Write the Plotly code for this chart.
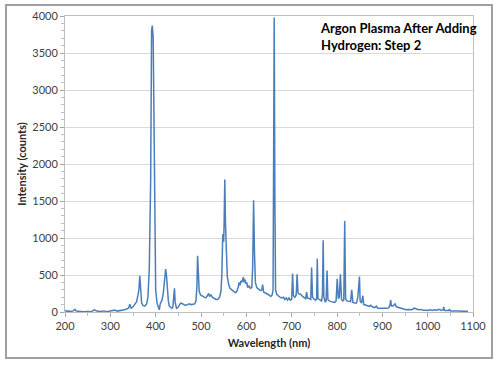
import plotly.graph_objects as go

wavelength = [200, 203, 208, 213, 218, 222, 225, 232, 240, 250, 258, 265, 270, 278, 285, 292, 300, 305, 310, 315,
              320, 326, 331, 336, 340, 343, 346, 350, 355, 358, 361, 363, 365, 367, 369, 372, 376, 380, 383, 386,
              389, 391, 392.5, 394.5, 396.5, 398, 400, 403, 406, 408, 410, 412, 414, 417, 420, 422, 424, 426, 428, 430,
              433, 436, 438, 440, 441.5, 443, 446, 449, 452, 455, 458, 462, 466, 470, 474, 478, 482, 486, 489, 491,
              492.5, 494, 496, 499, 503, 507, 511, 515, 517, 519, 522, 525, 529, 533, 537, 541, 544, 546, 548, 550,
              551, 552.5, 554, 556, 558, 561, 564, 568, 572, 576, 579, 582, 584, 586, 588, 590, 592, 593.5, 595, 597,
              599, 601, 603, 606, 609, 612, 614, 616, 618, 620, 623, 627, 631, 634, 636, 638, 642, 646, 650, 654,
              657, 659, 660.5, 661.5, 663, 664.5, 667, 670, 674, 678, 682, 685, 688, 691, 694, 697, 700, 702, 704, 707,
              710, 712, 714, 717, 720, 724, 728, 731, 733, 735, 739, 742, 744, 746, 750, 753, 755, 756.5, 758, 762,
              766, 768, 769.5, 771, 774, 776, 778, 780, 783, 787, 791, 795, 798, 800.5, 803, 805, 807.5, 810, 813, 815,
              817, 819, 822, 826, 830, 832.5, 835, 839, 843, 846, 848, 849.5, 851, 854, 857, 859, 863, 867, 871, 874,
              878, 883, 887, 890, 895, 900, 905, 910, 914, 917, 918.5, 920, 924, 928, 931, 936, 941, 946, 952, 958,
              964, 968, 971, 975, 980, 985, 990, 996, 1000, 1005, 1010, 1015, 1020, 1025, 1030, 1034, 1035.5, 1037, 1042, 1046,
              1048, 1050, 1056, 1062, 1070, 1078, 1085, 1089]
intensity = [25, 10, 12, 8, 15, 35, 12, 8, 5, 8, 5, 30, 12, 8, 15, 5, 10, 20, 25, 12,
             15, 20, 30, 40, 50, 105, 50, 70, 110, 140, 230, 300, 490, 250, 120, 90, 80, 110, 200, 600,
             1800, 3800, 3870, 3720, 2200, 800, 300, 120, 60, 30, 110, 140, 160, 260, 450, 580, 480, 280, 150, 80,
             60, 50, 70, 200, 320, 130, 50, 60, 100, 120, 115, 105, 90, 100, 110, 100, 100, 110, 150, 350,
             760, 450, 280, 230, 210, 200, 190, 230, 250, 210, 230, 200, 180, 170, 170, 200, 280, 500, 1050, 950,
             1200, 1790, 1200, 700, 480, 370, 320, 300, 280, 260, 280, 330, 400, 360, 420, 400, 440, 470, 400, 440,
             380, 400, 330, 350, 320, 330, 600, 1510, 800, 400, 330, 310, 290, 300, 370, 270, 260, 240, 230, 210,
             230, 300, 2500, 3980, 1500, 300, 240, 220, 200, 190, 200, 170, 190, 160, 190, 160, 170, 520, 220, 200,
             230, 510, 260, 240, 240, 210, 190, 180, 270, 190, 180, 170, 600, 200, 170, 160, 180, 720, 180, 160,
             150, 250, 970, 200, 140, 150, 560, 170, 150, 140, 140, 130, 150, 450, 180, 200, 510, 170, 150, 160,
             1230, 180, 150, 140, 140, 300, 130, 120, 120, 200, 420, 480, 150, 120, 220, 100, 95, 80, 75, 90,
             70, 60, 80, 50, 50, 40, 45, 50, 55, 100, 160, 80, 80, 110, 70, 60, 45, 40, 30, 35,
             30, 40, 55, 40, 30, 35, 25, 25, 20, 30, 20, 30, 25, 35, 20, 30, 70, 20, 25, 20,
             40, 15, 15, 10, 12, 10, 12, 10]

x_ticks = [200, 300, 400, 500, 600, 700, 800, 900, 1000, 1100]
y_ticks = [0, 500, 1000, 1500, 2000, 2500, 3000, 3500, 4000]
title_lines = ["Argon Plasma After Adding", "Hydrogen: Step 2"]
x_title = "Wavelength (nm)"
y_title = "Intensity (counts)"

FONT = "Lato, 'Open Sans', sans-serif"

fig = go.Figure()
fig.add_trace(go.Scatter(x=wavelength, y=intensity, mode="lines",
                         line=dict(color="#4a7ebb", width=1.5), showlegend=False))

fig.update_layout(
    width=499, height=365,
    margin=dict(l=65, r=26, t=16, b=53),
    paper_bgcolor="white", plot_bgcolor="white",
    font=dict(family=FONT, size=11, color="#262626"),
    xaxis=dict(range=[200, 1100], tickvals=x_ticks, ticks="outside", ticklen=4,
               tickcolor="#a6a6a6", showline=True, linecolor="#bfbfbf", mirror=True,
               showgrid=False, zeroline=False, automargin=False,
               minor=dict(dtick=50, ticks="outside", ticklen=3, tickcolor="#bfbfbf", showgrid=False),
               title=dict(text="<b>" + x_title + "</b>", font=dict(size=11, color="#262626"), standoff=8),
               tickfont=dict(size=11, color="#404040")),
    yaxis=dict(range=[0, 4000], tickvals=y_ticks, ticks="outside", ticklen=4,
               tickcolor="#a6a6a6", showline=True, linecolor="#bfbfbf", mirror=True,
               showgrid=True, gridcolor="#d9d9d9", gridwidth=1, zeroline=False, automargin=False,
               minor=dict(dtick=100, ticks="outside", ticklen=3, tickcolor="#bfbfbf", showgrid=False),
               title=dict(text="<b>" + y_title + "</b>", font=dict(size=11, color="#262626"), standoff=3),
               tickfont=dict(size=11, color="#404040")),
)

fig.add_annotation(xref="paper", yref="paper", x=(318 - 65) / 408, y=(312 - 18) / 296,
                   xanchor="left", yanchor="top", align="left", showarrow=False,
                   text="<b>" + title_lines[0] + "<br>" + title_lines[1] + "</b>",
                   font=dict(family=FONT, size=13, color="#000000"))

fig.add_shape(type="rect", xref="paper", yref="paper",
              x0=(6 - 65) / 408, x1=(492 - 65) / 408, y0=(312 - 358) / 296, y1=(312 - 5) / 296,
              line=dict(color="#a0a0a0", width=2), fillcolor="rgba(0,0,0,0)", layer="below")

fig.write_html("out.html", config={"displayModeBar": False},
               post_script="document.body.style.margin='0';")
